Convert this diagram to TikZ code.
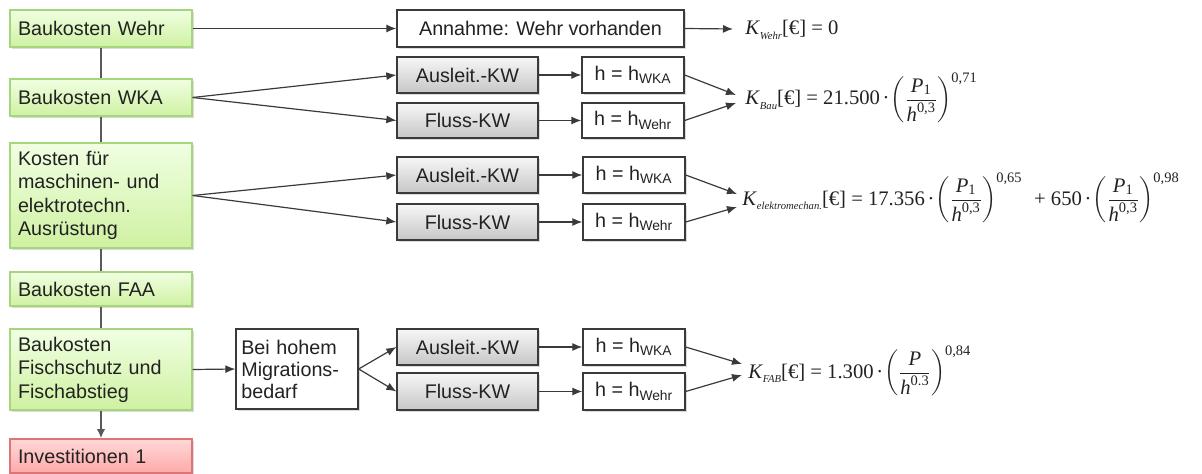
\documentclass[tikz,border=0pt]{standalone}
\usepackage{amsmath}
\usepackage{fontspec}
\setmainfont{Liberation Sans}
\newfontfamily\formfont{Liberation Serif}
\usetikzlibrary{arrows.meta,shadows}
\definecolor{gtop}{HTML}{F0FFE2}
\definecolor{gbot}{HTML}{CFF1A2}
\definecolor{gborder}{HTML}{A5D57C}
\definecolor{rtop}{HTML}{FFD8D8}
\definecolor{rbot}{HTML}{FFA9A9}
\definecolor{rborder}{HTML}{DE7474}
\definecolor{grtop}{HTML}{F7F7F7}
\definecolor{grbot}{HTML}{C6C6C6}
\definecolor{edge}{HTML}{3A3A3A}
\definecolor{txt}{HTML}{222222}
\newcommand{\Ksub}[1]{\textit{K}\raisebox{-3.5pt}{\fontsize{8}{8}\selectfont\textit{#1}}}
\newcommand{\PFrac}[3]{$\left(\dfrac{\textit{P}#1}{\textit{h}^{\text{#2}}}\right)^{\text{#3}}$}
\newcommand{\md}{\hspace{2pt}·\hspace{1pt}}
\begin{document}
\begin{tikzpicture}[x=0.75pt,y=-0.75pt,
  shad/.style={drop shadow={shadow xshift=1.2pt,shadow yshift=-1.2pt,fill=black!40,opacity=0.35}},
  basebox/.style={inner sep=0pt,text=txt,font=\fontsize{14.8}{17.6}\selectfont},
  gbox/.style={basebox,shad,draw=gborder,line width=1pt,top color=gtop,bottom color=gbot,
     align=left,text width=124.5pt,inner xsep=6pt,minimum width=136.5pt},
  rbox/.style={gbox,draw=rborder,top color=rtop,bottom color=rbot},
  kwbox/.style={basebox,shad,draw=edge,line width=1pt,top color=grtop,bottom color=grbot,
     align=center,minimum width=105.75pt},
  wbox/.style={basebox,shad,draw=edge,line width=1pt,fill=white,align=center},
  hbox/.style={wbox,minimum width=76.5pt},
  formula/.style={inner sep=0pt,anchor=base west,font=\formfont\fontsize{15.5}{18}\selectfont,text=txt},
  conn/.style={draw=edge,line width=0.9pt,-{Latex[length=7.5pt,width=6pt]}},
  vline/.style={draw=black!65,line width=1.5pt}
]
\useasboundingbox (0,0) rectangle (1202,474);
% left column
\node[gbox,minimum height=27.75pt] (wehr) at (101,28.5) {Baukosten Wehr};
\node[gbox,minimum height=27.75pt] (wka) at (101,97.5) {Baukosten WKA};
\node[gbox,minimum height=78.75pt] (ktech) at (101,195.5) {Kosten für\\maschinen- und\\elektrotechn.\\Ausrüstung};
\node[gbox,minimum height=25.5pt] (faa) at (101,289) {Baukosten FAA};
\node[gbox,minimum height=60.75pt] (fisch) at (101,369.5) {Baukosten\\Fischschutz und\\Fischabstieg};
\node[rbox,minimum height=25.5pt] (inv) at (101,456) {Investitionen 1};
% middle
\node[wbox,minimum width=215.25pt,minimum height=27.75pt] (annahme) at (540.5,28.5) {Annahme: Wehr vorhanden};
\node[kwbox,minimum height=27pt] (a1) at (467.5,75) {Ausleit.-KW};
\node[kwbox,minimum height=26.25pt] (f1) at (467.5,120.5) {Fluss-KW};
\node[hbox,minimum height=27pt] (h1a) at (633,75) {h = h\textsubscript{WKA}};
\node[hbox,minimum height=26.25pt] (h1f) at (633,120.5) {h = h\textsubscript{Wehr}};
\node[kwbox,minimum height=27pt] (a2) at (467.5,175) {Ausleit.-KW};
\node[kwbox,minimum height=27pt] (f2) at (467.5,222) {Fluss-KW};
\node[hbox,minimum height=27pt] (h2a) at (634,175) {h = h\textsubscript{WKA}};
\node[hbox,minimum height=27pt] (h2f) at (634,222) {h = h\textsubscript{Wehr}};
\node[wbox,align=left,text width=83.5pt,inner xsep=4pt,minimum width=91.5pt,minimum height=60pt,
  font=\fontsize{14.8}{16.5}\selectfont] (bei) at (297,369) {Bei hohem\\Migrations-\\bedarf};
\node[kwbox,minimum height=27pt] (a3) at (467.5,347) {Ausleit.-KW};
\node[kwbox,minimum height=27.75pt] (f3) at (467.5,391.5) {Fluss-KW};
\node[hbox,minimum height=27pt] (h3a) at (634,347) {h = h\textsubscript{WKA}};
\node[hbox,minimum height=27.75pt] (h3f) at (634,391.5) {h = h\textsubscript{Wehr}};
% formulas
\node[formula] (fW) at (745,35) {\Ksub{Wehr}[€] = 0};
\node[formula] (fB) at (745,105) {\Ksub{Bau}[€] = 21.500\md\PFrac{_{\text{1}}}{0,3}{0,71}};
\node[formula] (fE) at (742,205) {\Ksub{elektromechan.}[€] = 17.356\md\PFrac{_{\text{1}}}{0,3}{0,65}\hspace{5pt} + 650\md\PFrac{_{\text{1}}}{0,3}{0,98}};
\node[formula] (fF) at (748,378) {\Ksub{FAB}[€] = 1.300\md\PFrac{}{0.3}{0,84}};
% tip coordinates
\coordinate (tW) at (733,29);
\coordinate (tB1) at (736,95);
\coordinate (tB2) at (736,103);
\coordinate (tE1) at (737,194);
\coordinate (tE2) at (737,207);
\coordinate (tF1) at (742,364);
\coordinate (tF2) at (742,375);
% vertical links
\draw[vline] (wehr.south) -- (wka.north);
\draw[vline] (wka.south) -- (ktech.north);
\draw[vline] (ktech.south) -- (faa.north);
\draw[vline] (faa.south) -- (fisch.north);
\draw[vline,-{Latex[length=7pt,width=6.5pt]}] (fisch.south) -- (inv.north);
% connectors
\draw[conn] (wehr.east) -- (annahme.west);
\draw[conn] (annahme.east) -- (tW);
\draw[conn] (wka.east) -- (a1.west);
\draw[conn] (wka.east) -- (f1.west);
\draw[conn] (a1.east) -- (h1a.west);
\draw[conn] (f1.east) -- (h1f.west);
\draw[conn] (h1a.east) -- (tB1);
\draw[conn] (h1f.east) -- (tB2);
\draw[conn] (ktech.east) -- (a2.west);
\draw[conn] (ktech.east) -- (f2.west);
\draw[conn] (a2.east) -- (h2a.west);
\draw[conn] (f2.east) -- (h2f.west);
\draw[conn] (h2a.east) -- (tE1);
\draw[conn] (h2f.east) -- (tE2);
\draw[conn] (fisch.east) -- (bei.west);
\draw[conn] (bei.east) -- (a3.west);
\draw[conn] (bei.east) -- (f3.west);
\draw[conn] (a3.east) -- (h3a.west);
\draw[conn] (f3.east) -- (h3f.west);
\draw[conn] (h3a.east) -- (tF1);
\draw[conn] (h3f.east) -- (tF2);
\end{tikzpicture}
\end{document}
